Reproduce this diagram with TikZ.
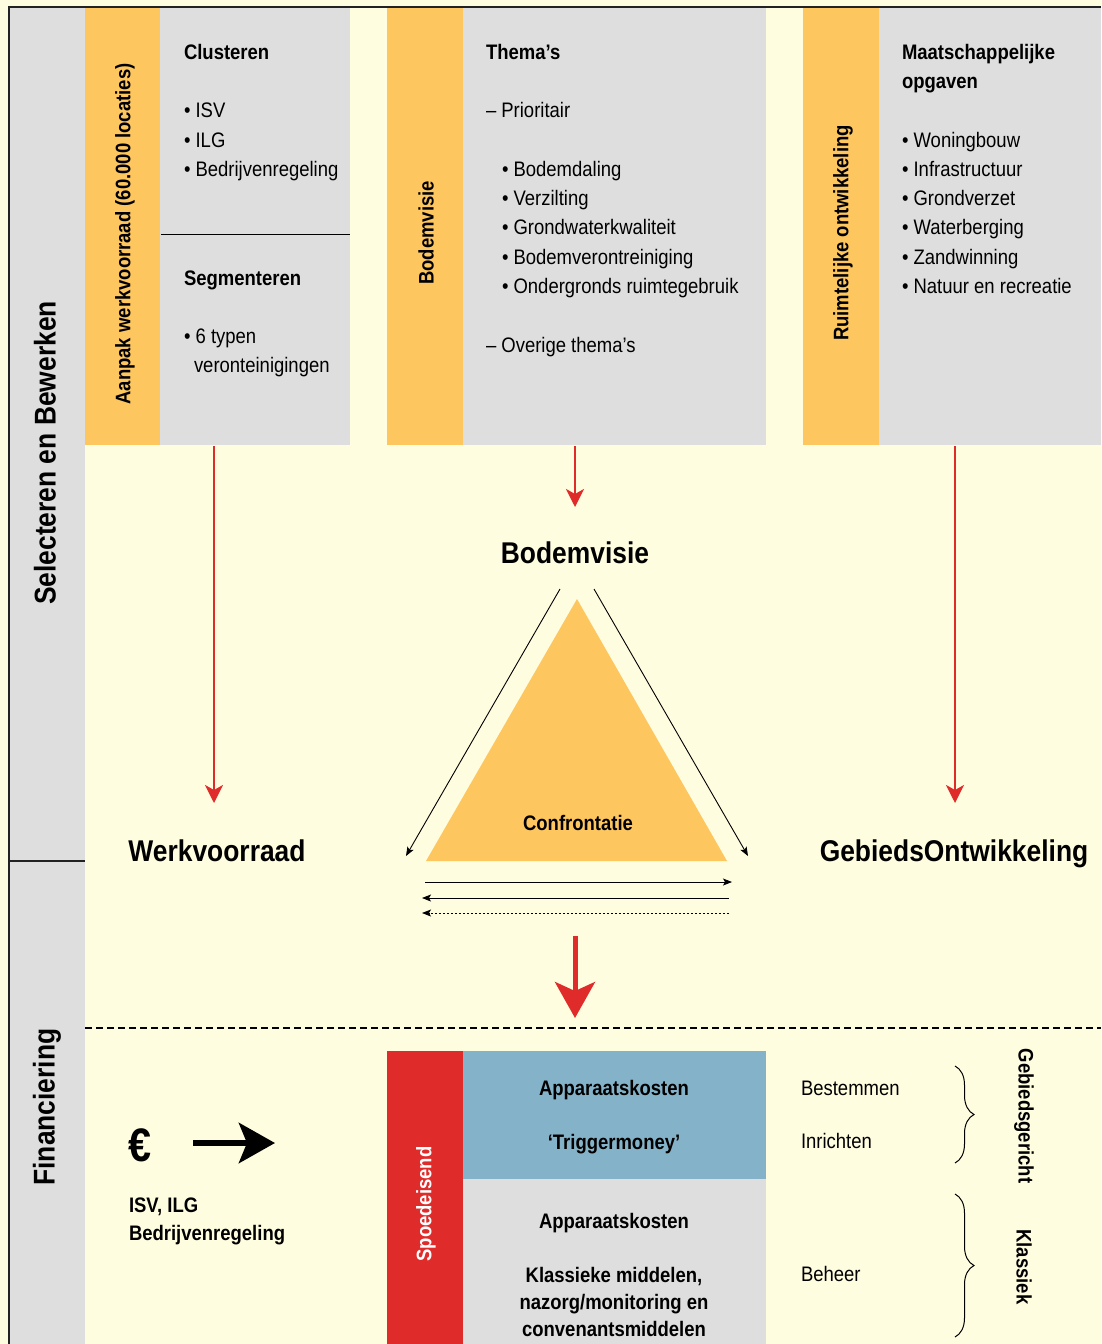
\documentclass[tikz,border=0pt]{standalone}
\usepackage{fontspec}
\setmainfont[FakeStretch=0.88]{Liberation Sans}
\usetikzlibrary{arrows.meta,decorations.pathreplacing}
\definecolor{bgy}{HTML}{FFFDE0}
\definecolor{grayc}{HTML}{DEDEDE}
\definecolor{orangec}{HTML}{FDC65F}
\definecolor{redc}{HTML}{E02B2B}
\definecolor{bluec}{HTML}{84B3C9}
\definecolor{framec}{HTML}{222222}
\begin{document}
\begin{tikzpicture}[x=1pt,y=-1pt,
  every node/.style={inner sep=0pt, outer sep=0pt},
  txt/.style={font=\fontsize{21}{25}\selectfont, anchor=base west},
  hd/.style={font=\bfseries\fontsize{21}{25}\selectfont, anchor=base west},
  hdc/.style={font=\bfseries\fontsize{21}{25}\selectfont, anchor=base},
  big/.style={font=\bfseries\fontsize{30}{36}\selectfont, anchor=base},
  vlab/.style={font=\bfseries\fontsize{21}{25}\selectfont, rotate=90},
  side/.style={font=\bfseries\fontsize{30}{36}\selectfont, rotate=90},
  gbox/.style={fill=grayc, anchor=north west},
  obox/.style={fill=orangec, anchor=north west},
  redarr/.style={draw=redc, line width=2.4pt, -{Stealth[length=18pt,width=18pt,inset=5pt]}},
  blkarr/.style={draw=black, line width=0.9pt, -{Stealth[length=9pt,width=7pt,inset=2pt]}},
]
\useasboundingbox (0,0) rectangle (1101,1344);
\fill[bgy] (0,0) rectangle (1101,1344);

% left band
\node[gbox, minimum width=76, minimum height=1337] (band) at (9,7) {};
\draw[framec, line width=2pt] (9,861) -- (85,861);
\draw[framec, line width=1.5pt] (9,1344) -- (9,7) -- (1101,7);

% top boxes
\node[obox, minimum width=75, minimum height=437] (oL) at (85,8) {};
\node[gbox, minimum width=190, minimum height=437] (gL) at (160,8) {};
\draw[black, line width=1pt] (161,234) -- (350,234);
\node[obox, minimum width=76, minimum height=437] (oM) at (387,8) {};
\node[gbox, minimum width=303, minimum height=437] (gM) at (463,8) {};
\node[obox, minimum width=76, minimum height=437] (oR) at (803,8) {};
\node[gbox, minimum width=222, minimum height=437] (gR) at (879,8) {};

% vertical labels
\node[side] (selbew) at (45,453) {Selecteren en Bewerken};
\node[side] (finan) at (47,1107) {Financiering};
\node[vlab] (aanpak) at (125,234) {Aanpak werkvoorraad (60.000 locaties)};
\node[vlab] (bvlab) at (426,233) {Bodemvisie};
\node[vlab] (ruimt) at (843,233) {Ruimtelijke ontwikkeling};

% left column texts
\node[hd] (clus) at (184,59) {Clusteren};
\node[txt] (isv) at (184,117) {• ISV};
\node[txt] (ilg) at (184,147) {• ILG};
\node[txt] (bedr) at (184,176) {• Bedrijvenregeling};
\node[hd] (segm) at (184,285) {Segmenteren};
\node[txt] (typen) at (184,343) {• 6 typen};
\node[txt] (veron) at (194,372) {veronteinigingen};

% middle column texts
\node[hd] (themas) at (486,59) {Thema’s};
\node[txt] (prio) at (486,117) {– Prioritair};
\node[txt] (m1) at (502,176) {• Bodemdaling};
\node[txt] (m2) at (502,205) {• Verzilting};
\node[txt] (m3) at (502,234) {• Grondwaterkwaliteit};
\node[txt] (m4) at (502,264) {• Bodemverontreiniging};
\node[txt] (m5) at (502,293) {• Ondergronds ruimtegebruik};
\node[txt] (over) at (486,352) {– Overige thema’s};

% right column texts
\node[hd] (maat) at (902,59) {Maatschappelijke};
\node[hd] (opg) at (902,88) {opgaven};
\node[txt] (r1) at (902,147) {• Woningbouw};
\node[txt] (r2) at (902,176) {• Infrastructuur};
\node[txt] (r3) at (902,205) {• Grondverzet};
\node[txt] (r4) at (902,234) {• Waterberging};
\node[txt] (r5) at (902,264) {• Zandwinning};
\node[txt] (r6) at (902,293) {• Natuur en recreatie};

% red arrows from the boxes
\coordinate (a1s) at (214,446); \coordinate (a1e) at (214,803);
\coordinate (a2s) at (575,446); \coordinate (a2e) at (575,507);
\coordinate (a3s) at (955,446); \coordinate (a3e) at (955,803);
\draw[redarr] (a1s) -- (a1e);
\draw[redarr] (a2s) -- (a2e);
\draw[redarr] (a3s) -- (a3e);

% big labels
\node[big] (bodem) at (575,563) {Bodemvisie};
\node[big] (werk) at (217,861) {Werkvoorraad};
\node[big] (gebont) at (954,861) {GebiedsOntwikkeling};

% triangle
\fill[orangec] (577,599) -- (727,861) -- (426,861) -- cycle;
\node[hdc] (conf) at (578,830) {Confrontatie};

% diagonal arrows
\coordinate (d1s) at (560,589); \coordinate (d1e) at (406,856);
\coordinate (d2s) at (594,589); \coordinate (d2e) at (748,856);
\draw[blkarr] (d1s) -- (d1e);
\draw[blkarr] (d2s) -- (d2e);

% horizontal arrows
\coordinate (h1s) at (425,882); \coordinate (h1e) at (732,882);
\coordinate (h2s) at (729,898); \coordinate (h2e) at (422,898);
\coordinate (h3s) at (729,913); \coordinate (h3e) at (422,913);
\draw[blkarr] (h1s) -- (h1e);
\draw[blkarr] (h2s) -- (h2e);
\draw[blkarr, dash pattern=on 2pt off 2pt] (h3s) -- (h3e);

% big red arrow
\coordinate (bra) at (575,936); \coordinate (brb) at (575,1018);
\draw[draw=redc, line width=5pt, -{Stealth[length=36pt,width=40pt,inset=9pt]}] (bra) -- (brb);

% dashed separator
\draw[black, line width=2.2pt, dash pattern=on 7pt off 4pt] (85,1028) -- (1101,1028);

% euro and arrow
\node[font=\bfseries\fontsize{47}{50}\selectfont, anchor=base west] (euro) at (128,1161) {€};
\coordinate (ea) at (193,1143); \coordinate (eb) at (275,1143);
\draw[black, line width=6.5pt, -{Stealth[length=36pt,width=40pt,inset=8pt]}] (ea) -- (eb);
\node[hd] (isvilg) at (129,1212) {ISV, ILG};
\node[hd] (bedr2) at (129,1240) {Bedrijvenregeling};

% bottom boxes
\node[anchor=north west, fill=redc, minimum width=76, minimum height=293] (spoed) at (387,1051) {};
\node[font=\bfseries\fontsize{21}{25}\selectfont, rotate=90, text=white] (spoedt) at (426,1204) {Spoedeisend};
\node[anchor=north west, fill=bluec, minimum width=303, minimum height=128] (blue) at (463,1051) {};
\node[anchor=north west, fill=grayc, minimum width=303, minimum height=165] (gray2) at (463,1179) {};
\node[hdc] (app1) at (614,1095) {Apparaatskosten};
\node[hdc] (trig) at (614,1149) {‘Triggermoney’};
\node[hdc] (app2) at (614,1228) {Apparaatskosten};
\node[hdc] (kl1) at (614,1282) {Klassieke middelen,};
\node[hdc] (kl2) at (614,1309) {nazorg/monitoring en};
\node[hdc] (kl3) at (614,1336) {convenantsmiddelen};

% right side
\node[txt] (best) at (801,1095) {Bestemmen};
\node[txt] (inr) at (801,1148) {Inrichten};
\node[txt] (beh) at (801,1281) {Beheer};
\coordinate (b1s) at (955,1066); \coordinate (b1e) at (955,1163);
\coordinate (b2s) at (955,1194); \coordinate (b2e) at (955,1337);
\draw[black, line width=1pt, decorate, decoration={brace, amplitude=19pt}] (b1s) -- (b1e);
\draw[black, line width=1pt, decorate, decoration={brace, amplitude=19pt}] (b2s) -- (b2e);
\node[font=\bfseries\fontsize{21}{25}\selectfont, rotate=-90] (gebg) at (1024,1116) {Gebiedsgericht};
\node[font=\bfseries\fontsize{21}{25}\selectfont, rotate=-90] (klas) at (1024,1267) {Klassiek};
\end{tikzpicture}
\end{document}
